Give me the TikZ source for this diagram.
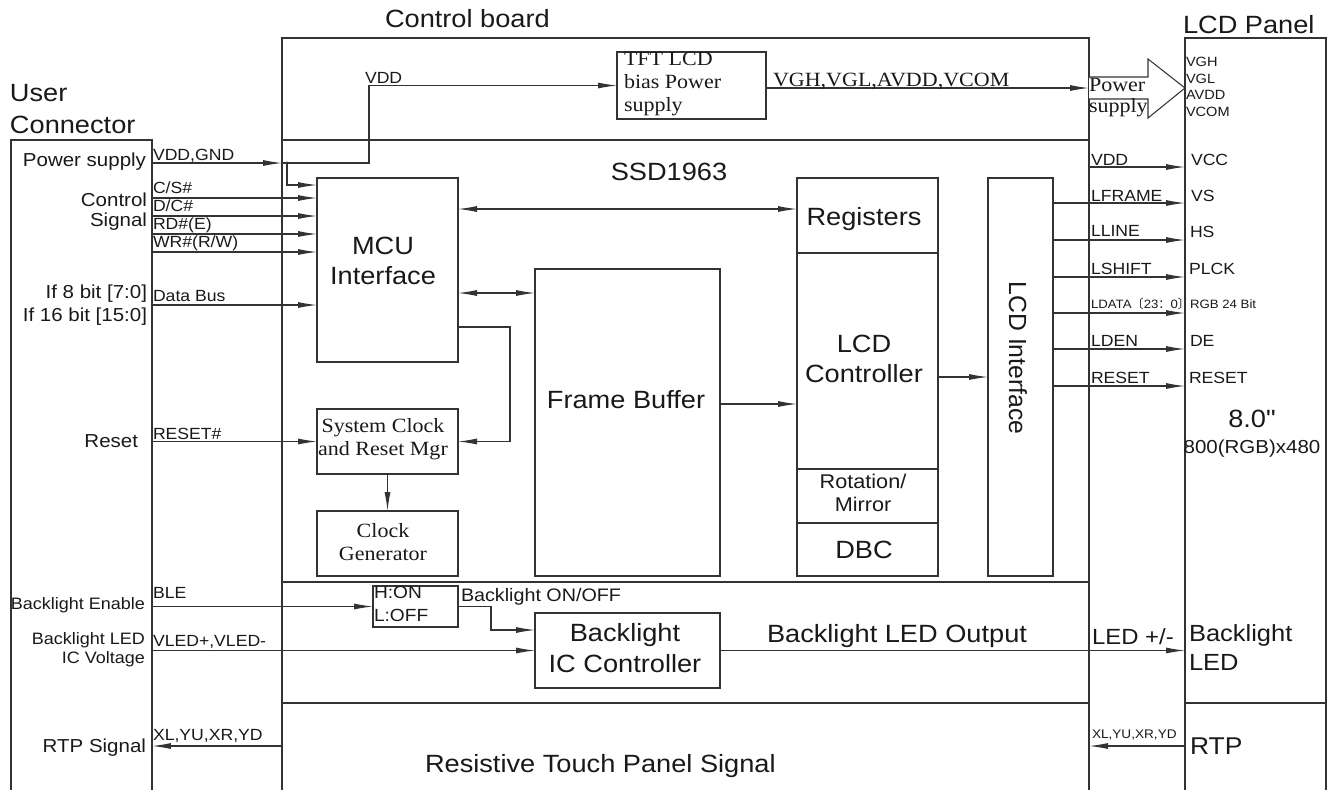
\documentclass[tikz,border=0pt]{standalone}
\usepackage{fontspec}
\setmainfont{Liberation Sans}[FakeStretch=1.09]
\newfontfamily\tms{Liberation Serif}[FakeStretch=1.09]
\newfontfamily\rsans{Liberation Sans}
\newfontfamily\inch{Liberation Sans}[FakeStretch=1.09, Ligatures=ResetAll]
\newfontfamily\cjk{Noto Sans CJK SC}
\usetikzlibrary{arrows.meta, positioning, fit}

\begin{document}
\begin{tikzpicture}[
    x=0.02cm, y=-0.02cm,
    every node/.style={inner sep=0pt, outer sep=0pt, text=black!90},
    box/.style={draw=black!80, line width=0.7pt, inner sep=0pt},
    wire/.style={draw=black!80, line width=0.6pt},
    arrow/.style={wire, -{Latex[length=3.8mm,width=1.2mm]}},
    twoway/.style={wire, {Latex[length=3.8mm,width=1.2mm]}-{Latex[length=3.8mm,width=1.2mm]}},
    title/.style={font=\fontsize{14.2}{18}\selectfont},
    big/.style={font=\fontsize{14.2}{17.3}\selectfont, align=center},
    mid/.style={font=\fontsize{10.7}{12.8}\selectfont},
    sig/.style={font=\fontsize{9.2}{11}\selectfont, anchor=base west},
    serif/.style={font=\tms\fontsize{11.5}{13.2}\selectfont}
]
\useasboundingbox (0,0) rectangle (1336,789);

% outer frames
\node[box, fit={(11,140) (152,800)}] (user) {};
\node[box, line width=0.8pt, fit={(282,38) (1089,800)}] (cb) {};
\node[box, fit={(1185,38) (1326,800)}] (panel) {};
\draw[box, line width=0.8pt] (cb.west |- 0,140) -- (cb.east |- 0,140);
\draw[box, line width=0.8pt] (cb.west |- 0,582) -- (cb.east |- 0,582);
\draw[box, line width=0.8pt] (cb.west |- 0,703) -- (cb.east |- 0,703);
\draw[box] (panel.west |- 0,703) -- (panel.east |- 0,703);

\node[title, anchor=base west] (cbtitle) at (385,27) {Control board};
\node[title, anchor=west, align=left] (usertitle) at (10,109) {User\\Connector};
\node[title, anchor=base west] (paneltitle) at (1183,33) {LCD Panel};
\node[title, anchor=base] (ssdtitle) at (669,180) {SSD1963};

% blocks
\node[box, fit={(617,52) (766,119)}] (tft) {};
\node[serif, anchor=west, align=left] (tfttxt) at (624,84) {TFT LCD\\bias Power\\supply};
\node[box, fit={(317,178) (458,362)}] (mcu) {};
\node[big] (mcutxt) at (383,261) {MCU\\Interface};
\node[box, fit={(317,409) (458,474)}] (sysclk) {};
\node[serif, align=center] (sysclktxt) at (383,439) {System Clock\\and Reset Mgr};
\node[box, fit={(317,511) (458,576)}] (clkgen) {};
\node[serif, align=center] (clkgentxt) at (383,542) {Clock\\Generator};
\node[box, fit={(535,269) (720,576)}] (fb) {};
\node[big, anchor=base] (fbtxt) at (626,408) {Frame Buffer};
\node[box, fit={(797,178) (938,576)}] (lcdc) {};
\draw[box] (lcdc.west |- 0,253) -- (lcdc.east |- 0,253);
\draw[box] (lcdc.west |- 0,469) -- (lcdc.east |- 0,469);
\draw[box] (lcdc.west |- 0,523) -- (lcdc.east |- 0,523);
\node[big, anchor=base] (regtxt) at (864,225) {Registers};
\node[big] (lcdctxt) at (864,359) {LCD\\Controller};
\node[align=center, font=\fontsize{11.3}{13.5}\selectfont] (rottxt) at (863,493) {Rotation/\\Mirror};
\node[big, anchor=base] (dbctxt) at (864,558) {DBC};
\node[box, fit={(988,178) (1053,576)}] (lcdif) {};
\node[rotate=-90, font=\rsans\fontsize{14.1}{16}\selectfont] (lcdiftxt) at (1018,358) {LCD Interface};
\node[box, fit={(373,586) (458,627)}] (onoff) {};
\node[anchor=west, align=left, font=\fontsize{10}{12.7}\selectfont] (onofftxt) at (374,604) {H:ON\\L:OFF};
\node[box, fit={(535,613) (720,688)}] (blic) {};
\node[big] (blictxt) at (625,648) {Backlight\\IC Controller};

% power arrow into the panel
\draw[wire, fill=white] (cb.east |- 0,77) -- (1148,77) -- (1148,59) -- (panel.west |- 0,88)
    -- (1148,118) -- (1148,99) -- (cb.east |- 0,99);
\node[serif, anchor=west, align=left, font=\tms\fontsize{11.5}{11.9}\selectfont] (pwrtxt) at (1089,98) {Power\\supply};

% user connector side
\node[mid, anchor=base east] (pwrlbl) at (146,166) {Power supply};
\node[mid, anchor=east, align=right, font=\fontsize{10.7}{11.5}\selectfont] (ctllbl) at (147,212) {Control\\Signal};
\node[mid, anchor=east, align=right, font=\fontsize{10.7}{13.2}\selectfont] (buslbl) at (147,305) {If 8 bit [7:0]\\If 16 bit [15:0]};
\node[mid, anchor=base east] (rstlbl) at (138,447) {Reset};
\node[anchor=base east, font=\fontsize{9.4}{11}\selectfont] (blelbl) at (145,609) {Backlight Enable};
\node[anchor=east, align=right, font=\fontsize{9.4}{10.8}\selectfont] (vledlbl) at (145,650) {Backlight LED\\IC Voltage};
\node[mid, anchor=base east] (rtplbl) at (146,752) {RTP Signal};

\coordinate (vj) at (287,163);
\draw[arrow] (user.east |- vj) -- (cb.west |- vj);
\draw[arrow] (cb.west |- vj) -- ++(87,0) |- (tft.west);
\fill[black!80] (vj) circle (0.9pt);
\draw[arrow] (vj) |- (mcu.west |- 0,185);
\draw[arrow] (user.east |- 0,198) -- (mcu.west |- 0,198);
\draw[arrow] (user.east |- 0,216) -- (mcu.west |- 0,216);
\draw[arrow] (user.east |- 0,234) -- (mcu.west |- 0,234);
\draw[arrow] (user.east |- 0,252) -- (mcu.west |- 0,252);
\draw[arrow] (user.east |- 0,305) -- (mcu.west |- 0,305);
\draw[arrow] (user.east |- sysclk) -- (sysclk.west);
\draw[arrow] (user.east |- onoff) -- (onoff.west);
\draw[arrow] (user.east |- blic) -- (blic.west);
\draw[arrow] (cb.west |- 0,746) -- (user.east |- 0,746);

\node[sig] (vddgnd) at (153,160) {VDD,GND};
\node[sig] (cslbl) at (153,193) {C/S\#};
\node[sig] (dclbl) at (153,211.5) {D/C\#};
\node[sig] (rdlbl) at (153,229) {RD\#(E)};
\node[sig] (wrlbl) at (153,247) {WR\#(R/W)};
\node[sig] (dblbl) at (153,301.5) {Data Bus};
\node[sig] (rstsig) at (153,439) {RESET\#};
\node[sig] (blesig) at (153,598) {BLE};
\node[sig] (vledsig) at (153,646) {VLED+,VLED-};
\node[sig] (xlsig) at (153,740) {XL,YU,XR,YD};
\node[sig] (vddtop) at (365,83) {VDD};

% inside the controller
\draw[twoway] (mcu.east |- 0,209) -- (lcdc.west |- 0,209);
\draw[twoway] (mcu.east |- 0,293) -- (fb.west |- 0,293);
\draw[arrow] (mcu.east |- 0,327) -- ++(52,0) |- (sysclk.east);
\draw[arrow] (sysclk.south) -- (clkgen.north);
\draw[arrow] (fb.east |- 0,404) -- (lcdc.west |- 0,404);
\draw[arrow] (lcdc.east |- 0,377) -- (lcdif.west |- 0,377);
\draw[arrow] (onoff.east) -- ++(33,0) |- (blic.west |- 0,630);
\node[anchor=base west, font=\fontsize{10.3}{12}\selectfont] (onofflbl) at (461,601) {Backlight ON/OFF};
\node[big, anchor=base west] (ledout) at (767,642) {Backlight LED Output};
\node[big, anchor=base west] (rtptxt) at (425,772) {Resistive Touch Panel Signal};

% panel side
\draw[arrow] (tft.east |- 0,88) -- (cb.east |- 0,88);
\node[serif, anchor=base west] (biaslbl) at (773,86) {VGH,VGL,AVDD,VCOM};
\draw[arrow] (cb.east |- 0,167) -- (panel.west |- 0,167);
\draw[arrow] (lcdif.east |- 0,203) -- (panel.west |- 0,203);
\draw[arrow] (lcdif.east |- 0,240) -- (panel.west |- 0,240);
\draw[arrow] (lcdif.east |- 0,277) -- (panel.west |- 0,277);
\draw[arrow] (lcdif.east |- 0,313) -- (panel.west |- 0,313);
\draw[arrow] (lcdif.east |- 0,349) -- (panel.west |- 0,349);
\draw[arrow] (lcdif.east |- 0,386) -- (panel.west |- 0,386);
\draw[arrow] (blic.east) -- (panel.west |- blic.east);
\draw[arrow] (panel.west |- 0,746) -- (cb.east |- 0,746);

\node[sig] (vddr) at (1091,165) {VDD};
\node[sig] (lframe) at (1091,201.5) {LFRAME};
\node[sig] (lline) at (1091,236.5) {LLINE};
\node[sig] (lshift) at (1091,274) {LSHIFT};
\node[anchor=base west, font=\fontsize{6.9}{8}\selectfont] (ldata) at (1091,308) {LDATA{\cjk 〔}23{\cjk ：}0{\cjk 〕}RGB 24 Bit};
\node[sig] (lden) at (1091,346.5) {LDEN};
\node[sig] (lrst) at (1091,383) {RESET};
\node[anchor=base west, font=\fontsize{12.5}{14}\selectfont] (ledpm) at (1092,644) {LED +/-};
\node[anchor=base west, font=\fontsize{7.1}{8}\selectfont] (xlr) at (1092,738) {XL,YU,XR,YD};

\node[anchor=west, align=left, font=\fontsize{7.6}{9.45}\selectfont] (biasin) at (1186,87) {VGH\\VGL\\AVDD\\VCOM};
\node[sig] (vcc) at (1191,165.5) {VCC};
\node[sig] (vs) at (1191,201) {VS};
\node[sig] (hs) at (1190,237) {HS};
\node[sig] (plck) at (1189,274) {PLCK};
\node[sig] (de) at (1190,346) {DE};
\node[sig] (prst) at (1189,383) {RESET};
\node[anchor=base, font=\inch\fontsize{14.2}{17.3}\selectfont] (size) at (1252,427) {8.0"};
\node[mid, anchor=base] (res) at (1252,453) {800(RGB)x480};
\node[anchor=west, align=left, font=\fontsize{13.3}{16.5}\selectfont] (bled) at (1189,648) {Backlight\\LED};
\node[anchor=base west, font=\fontsize{13.8}{16}\selectfont] (rtp) at (1190,754) {RTP};
\end{tikzpicture}
\end{document}
